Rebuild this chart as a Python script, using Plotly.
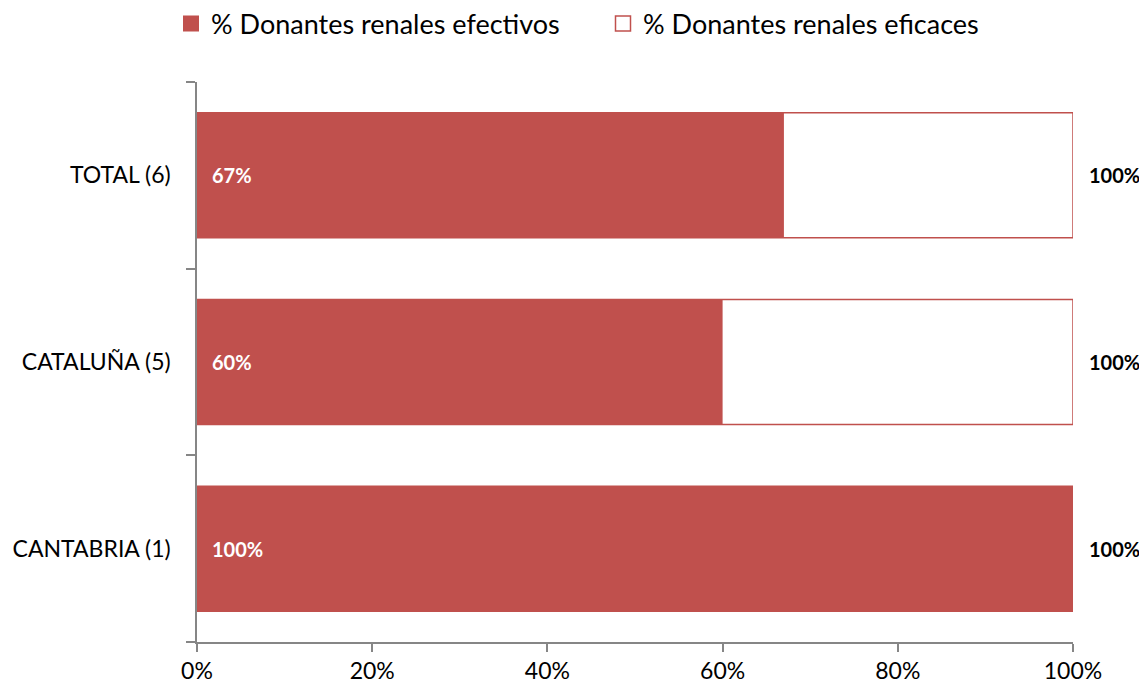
import plotly.graph_objects as go

categories = ["CANTABRIA (1)", "CATALUÑA (5)", "TOTAL (6)"]
efectivos = [1.00, 0.60, 0.67]
eficaces = [1.00, 1.00, 1.00]
series_names = ["% Donantes renales efectivos", "% Donantes renales eficaces"]
x_ticks = [0, 0.2, 0.4, 0.6, 0.8, 1.0]
x_tick_labels = ["0%", "20%", "40%", "60%", "80%", "100%"]

red = "#C0504D"
font = "Lato"

fig = go.Figure()
fig.add_trace(go.Bar(
    y=categories, x=efectivos, orientation="h",
    name=series_names[0],
    marker=dict(color=red, line=dict(width=0)),
    width=0.67, hoverinfo="x+y", showlegend=False,
))
fig.add_trace(go.Bar(
    y=categories, x=eficaces, orientation="h",
    name=series_names[1],
    marker=dict(color="rgba(255,255,255,0)", line=dict(color=red, width=1.5)),
    width=0.67, hoverinfo="x+y", showlegend=False,
))
# legend keys (larger square symbols than the bar default)
fig.add_trace(go.Scatter(
    x=[None], y=[None], mode="markers", name=series_names[0],
    marker=dict(symbol="square", size=16, color=red, line=dict(width=0)),
    legend="legend", hoverinfo="skip",
))
fig.add_trace(go.Scatter(
    x=[None], y=[None], mode="markers", name=series_names[1],
    marker=dict(symbol="square", size=15, color="white", line=dict(color=red, width=1.5)),
    legend="legend2", hoverinfo="skip",
))

annotations = []
for c, v in zip(categories, efectivos):
    annotations.append(dict(
        x=0, y=c, xref="x", yref="y", text=f"<b>{round(v*100)}%</b>",
        showarrow=False, xanchor="left", xshift=13,
        font=dict(family=font, size=20, color="white"),
    ))
for c, v in zip(categories, eficaces):
    annotations.append(dict(
        x=v, y=c, xref="x", yref="y", text=f"<b>{round(v*100)}%</b>",
        showarrow=False, xanchor="left", xshift=14,
        font=dict(family=font, size=20, color="black"),
    ))

# The page body adds an 8px offset, so the figure is 8px smaller.
W, H = 1139, 680
PL, PR, PT, PB = 189, 74, 74, 46
pw = W - PL - PR
ph = H - PT - PB

legend_common = dict(orientation="h", xanchor="left", yanchor="middle",
                     font=dict(size=27, family=font), itemwidth=30,
                     bgcolor="rgba(0,0,0,0)")

fig.update_layout(
    barmode="overlay",
    width=W, height=H,
    margin=dict(l=PL, r=PR, t=PT, b=PB, autoexpand=False),
    plot_bgcolor="white", paper_bgcolor="white",
    font=dict(family=font, size=23, color="black"),
    showlegend=True,
    legend=dict(x=(171 - 197) / pw, y=1 + (PT - 16) / ph, **legend_common),
    legend2=dict(x=(603 - 197) / pw, y=1 + (PT - 16) / ph, **legend_common),
    annotations=annotations,
    xaxis=dict(range=[0, 1], tickvals=x_ticks, ticktext=x_tick_labels,
               showgrid=False, zeroline=False, showline=True,
               linecolor="#868686", linewidth=1.5, automargin=False,
               ticks="outside", ticklen=8, tickcolor="#868686", tickwidth=1.5,
               tickfont=dict(size=23, family=font)),
    yaxis=dict(showgrid=False, zeroline=False, showline=True,
               linecolor="#868686", linewidth=1.5, automargin=False,
               ticks="outside", tickson="boundaries", ticklen=9,
               tickcolor="#868686", tickwidth=1.5,
               tickfont=dict(size=23, family=font), ticklabelstandoff=20),
)

fig.write_html("out.html")
